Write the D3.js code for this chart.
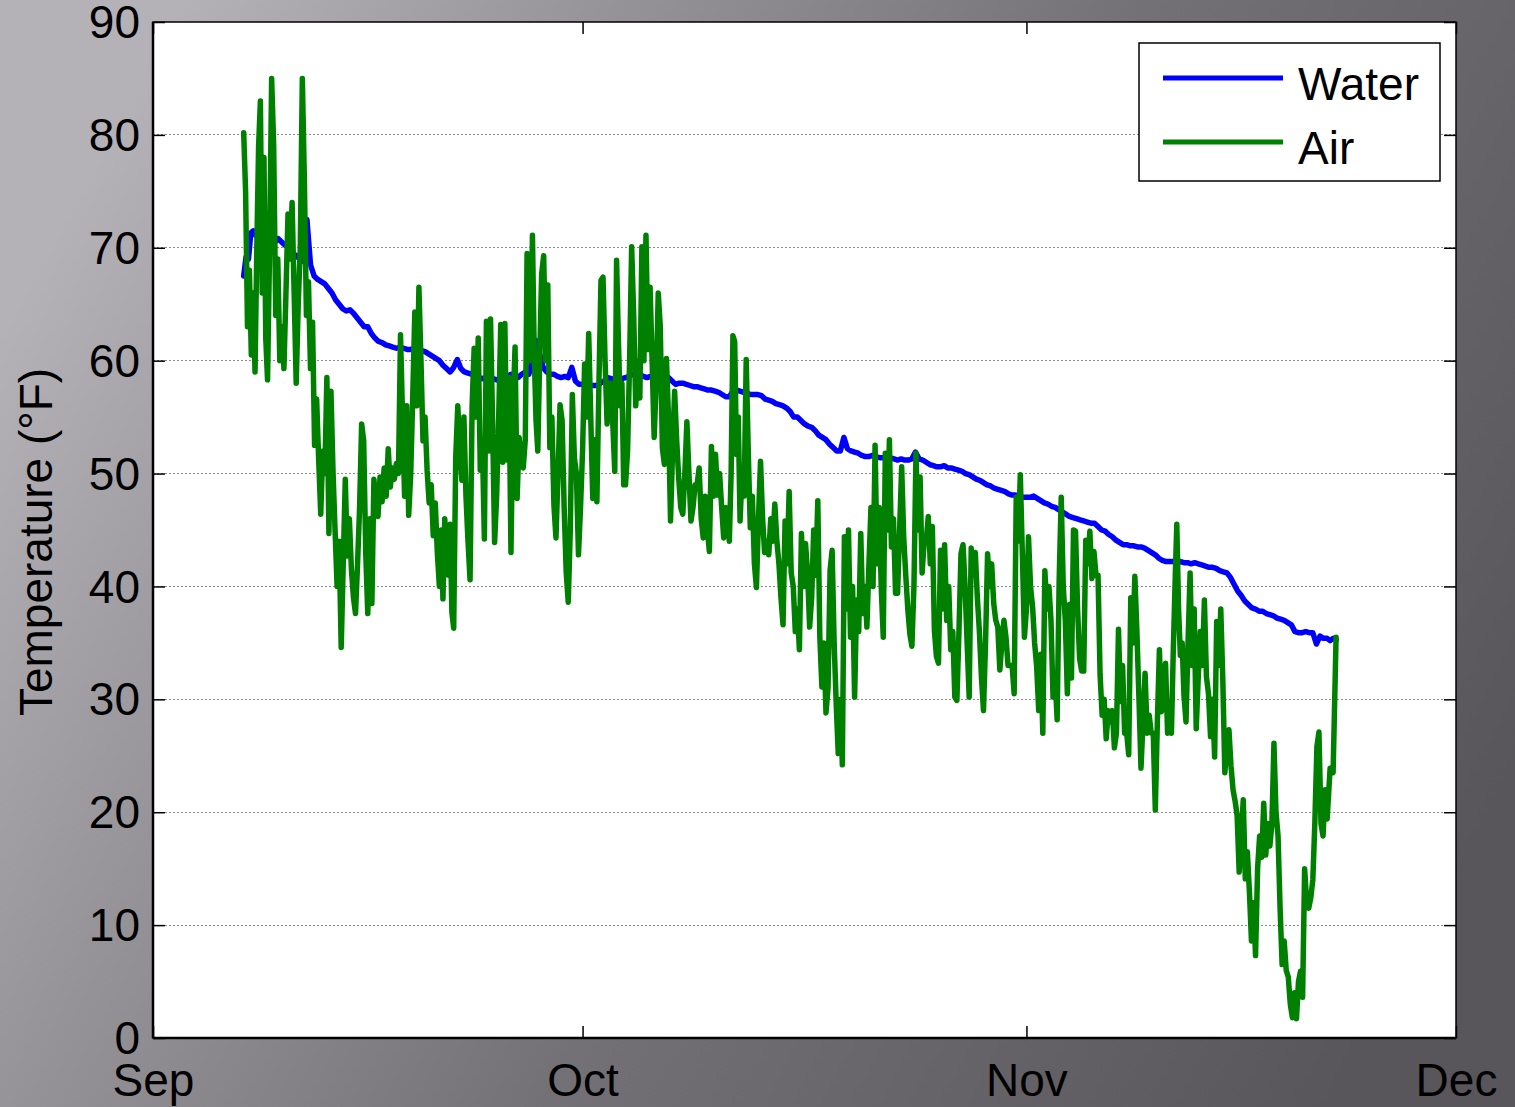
<!DOCTYPE html>
<meta charset="utf-8">
<style>
  body { margin: 0; background: #6a686d; }
  svg { display: block; font-family: "Liberation Sans", Arial, sans-serif; }
  .grid line { stroke: #8a8a8a; stroke-width: 1px; stroke-dasharray: 2,2; shape-rendering: crispEdges; }
  .axis text { font-size: 46px; fill: #000; }
  .axis line { stroke: #000; stroke-width: 1.5px; }
  .axis .domain { display: none; }
  .line { fill: none; stroke-width: 5.5px; stroke-linejoin: round; stroke-linecap: round; }
  .legend text { font-size: 46px; fill: #000; }
</style>
<body>
<div id="chart"></div>
<script src="https://cdn.jsdelivr.net/npm/d3@7"></script>
<script>
// readings per day, starting Sep 7 (first day starts at 08:00, last day ends ~15:00)
const firstDay = [2013, 8, 7];
const firstDayStartHour = 8;
const lastDayEndHour = 20;

const airByDay = [
  [80.2, 75, 63, 68, 60.5],
  [66, 59, 70, 79, 83, 66, 78, 62],
  [58.3, 70, 85, 79, 64, 69, 60],
  [63, 59.3, 66, 73, 69, 74, 66],
  [58, 65, 70, 85, 76, 64, 67],
  [59.3, 63.4, 52.5, 56.6, 51.2, 46.4, 52],
  [50, 58.5, 44.7, 57.3, 50.2, 45, 40],
  [44, 34.6, 42, 49.5, 42.7, 46, 41.5],
  [39, 37.6, 42, 47, 54.4, 52.9, 43],
  [37.6, 46, 38.5, 49.5, 47, 46.2, 49.7],
  [47.5, 50.5, 48, 52.2, 48.8, 50.5, 49.5],
  [50.9, 50, 62.3, 55, 48, 56, 46.3],
  [50, 57, 64.3, 56, 66.5, 60, 52.9],
  [55, 50.3, 47.4, 49, 44.5, 47.4, 43],
  [40, 45, 38.9, 46, 43, 41, 45.5, 37.7],
  [36.3, 51.5, 56, 52, 49.4, 55, 48],
  [44, 40.6, 56, 61.1, 55, 62, 50.3],
  [53, 44.2, 63.5, 52, 63.7, 54.7, 43.9],
  [48, 55, 63.2, 51, 63.3, 51.2, 58.5],
  [43, 56, 61.2, 47.8, 53.2, 51, 50.5],
  [53, 69.5, 62, 60, 71.1, 60.6, 54.7, 52],
  [60, 67.7, 69.3, 60, 66.7, 52.3, 55],
  [47.2, 44.3, 50, 56.1, 54.7, 47, 41.3],
  [38.6, 45, 57, 51.4, 50, 42.8, 47],
  [52, 59.7, 55, 62.4, 55, 47.8, 53],
  [47.5, 58, 67.1, 67.4, 60, 54.4, 58],
  [58, 54, 50.2, 68.9, 62, 56, 58, 49],
  [49, 52, 60, 70.1, 64, 56, 60],
  [56.7, 70.1, 60, 71.1, 61, 66.5, 60],
  [53.2, 58, 66, 63, 52.3, 50.8, 60.2],
  [55, 45.8, 52, 57.3, 53, 49.6, 47],
  [46.4, 50, 54.6, 50, 45.8, 47, 49],
  [49, 50.5, 46, 44.3, 48, 45, 43.1],
  [52.4, 48, 51.7, 48.1, 50, 47, 44.3],
  [47, 46, 44, 50, 62.2, 61.7, 51.7, 55],
  [45.8, 50, 48, 60.1, 52, 45.2, 48],
  [42, 39.9, 46, 51.1, 46.1, 43, 44],
  [42.8, 46, 44, 47.3, 44, 42, 39],
  [36.6, 45.8, 42, 48.4, 41.2, 40, 36],
  [38, 34.4, 44.7, 40, 43.8, 41.2, 36.4],
  [39, 45, 41, 47.6, 35.5, 31.1, 35],
  [28.8, 31, 41.4, 43.2, 35, 29.6, 25.2],
  [30, 24.2, 44.4, 38, 45, 35.5, 40],
  [30.2, 38.8, 36, 44.7, 37.6, 40, 36.4],
  [42, 47, 40, 52.5, 42, 47, 40],
  [35.5, 51.8, 45, 53, 43.5, 46, 39.4],
  [39.4, 45, 50.6, 44.4, 41, 38, 35.8],
  [34.7, 40, 51.8, 45, 49.7, 41.2, 44],
  [44, 46.2, 42, 45.3, 36.1, 33.8, 33.2],
  [43.2, 38, 43.7, 37, 40, 34.4, 36],
  [30.2, 29.9, 36, 42.9, 43.7, 40, 35],
  [30.2, 43.4, 41, 43, 39, 36, 32],
  [29, 35, 42.9, 40, 42, 38.5, 37],
  [36.4, 32.6, 35, 37, 35.5, 33, 33],
  [33, 30.5, 47.9, 44, 49.9, 42.9, 35.5],
  [38, 44.4, 40, 38.2, 35, 32.9, 29],
  [34, 27, 41.4, 38, 40, 37, 30.2],
  [32, 28.2, 40.6, 47.9, 40, 37, 30.5],
  [38.4, 31.9, 45, 44.9, 38, 33.6, 32.5],
  [32.5, 44.1, 42, 44.9, 40.7, 43.1, 41],
  [41, 32.2, 28.6, 30, 26.5, 29, 28],
  [29, 25.7, 27, 36.2, 29.8, 33, 27],
  [27, 25.1, 39, 35, 40.9, 36, 30.1],
  [23.9, 28, 32.3, 27, 28.6, 27, 27],
  [20.2, 28, 34.4, 28.9, 31, 33.2, 27],
  [29, 27, 34, 40, 45.5, 38, 33.9, 35],
  [30.4, 28, 35, 41.2, 33, 38, 27.4],
  [32, 36, 33, 38.8, 32, 30.5, 26.7],
  [30, 24.9, 36.9, 33, 38, 31.7, 23.5],
  [26, 27.3, 24.1, 22, 21, 19.7, 14.7],
  [18, 21.1, 14.1, 16.5, 13, 8.6, 12],
  [7.3, 15, 17.9, 16, 20.8, 16.2, 19],
  [17, 19, 26.1, 20, 17.9, 11.5, 6.5],
  [8.6, 6, 5.4, 3, 1.8, 4, 1.7],
  [5, 5.9, 3.6, 15, 12, 11.5, 12.4],
  [14, 19.1, 25.8, 27.1, 19, 17.9, 22],
  [19.4, 23.9, 23.5, 35.5]
];

const waterByDay = [
  [67.5, 69.2, 69.0, 71.3],
  [71.5, 71.0, 70.6, 71.3],
  [71.8, 71.2, 70.5, 70.8],
  [70.5, 70.2, 70.0, 69.5],
  [69.3, 69.0, 68.8, 72.5],
  [68.5, 67.5, 67.2, 67.0],
  [66.8, 66.4, 66.0, 65.4],
  [65.0, 64.6, 64.4, 64.5],
  [64.2, 63.8, 63.4, 63.0],
  [63.0, 62.4, 62.0, 61.7],
  [61.6, 61.4, 61.3, 61.2],
  [61.1, 61.2, 61.1, 61.0],
  [61.0, 61.1, 61.0, 60.9],
  [60.8, 60.6, 60.4, 60.2],
  [60.0, 59.6, 59.3, 59.0],
  [59.4, 60.1, 59.3, 59.0],
  [58.9, 58.8, 58.6, 58.5],
  [58.4, 58.5, 58.3, 58.4],
  [58.3, 58.2, 58.4, 58.6],
  [58.8, 58.6, 58.5, 58.8],
  [59.0, 58.8, 60.2, 61.8],
  [60.6, 59.4, 59.0, 58.8],
  [58.8, 58.6, 58.5, 58.6],
  [58.5, 59.4, 58.2, 57.9],
  [57.9, 58.0, 57.8, 57.8],
  [57.8, 58.0, 58.2, 58.5],
  [58.4, 58.3, 58.2, 58.4],
  [58.5, 58.6, 58.8, 58.7],
  [58.8, 58.6, 58.5, 58.6],
  [58.5, 58.5, 58.4, 58.4],
  [58.5, 58.2, 57.9, 58.0],
  [58.0, 57.9, 57.8, 57.7],
  [57.7, 57.6, 57.5, 57.4],
  [57.4, 57.3, 57.2, 57.0],
  [56.8, 56.8, 57.3, 57.4],
  [57.3, 57.2, 57.1, 57.0],
  [57.0, 57.0, 56.9, 56.6],
  [56.5, 56.4, 56.2, 56.1],
  [56.0, 55.8, 55.5, 55.0],
  [55.0, 54.7, 54.4, 54.2],
  [54.1, 53.8, 53.4, 53.2],
  [53.0, 52.6, 52.3, 52.0],
  [52.0, 53.2, 52.2, 52.0],
  [51.9, 51.8, 51.6, 51.5],
  [51.5, 51.6, 51.5, 51.4],
  [51.4, 51.3, 51.4, 51.3],
  [51.2, 51.3, 51.2, 51.2],
  [51.3, 51.9, 51.3, 51.2],
  [51.0, 50.8, 50.7, 50.6],
  [50.6, 50.7, 50.5, 50.5],
  [50.4, 50.3, 50.2, 50.0],
  [49.9, 49.7, 49.5, 49.4],
  [49.2, 49.0, 48.9, 48.7],
  [48.6, 48.5, 48.4, 48.2],
  [48.1, 48.1, 48.0, 47.9],
  [47.9, 47.9, 48.0, 47.8],
  [47.6, 47.4, 47.3, 47.1],
  [47.0, 46.8, 46.6, 46.4],
  [46.2, 46.1, 46.0, 45.9],
  [45.8, 45.7, 45.6, 45.6],
  [45.3, 45.0, 44.9, 44.6],
  [44.4, 44.1, 43.9, 43.7],
  [43.7, 43.6, 43.6, 43.5],
  [43.5, 43.4, 43.2, 43.0],
  [42.8, 42.5, 42.3, 42.2],
  [42.2, 42.2, 42.1, 42.2],
  [42.1, 42.1, 42.0, 42.1],
  [42.0, 41.9, 41.8, 41.7],
  [41.7, 41.6, 41.4, 41.3],
  [41.2, 40.8, 40.2, 39.6],
  [39.2, 38.7, 38.4, 38.1],
  [38.0, 37.8, 37.8, 37.6],
  [37.5, 37.4, 37.2, 37.1],
  [37.0, 36.8, 36.6, 36.0],
  [35.9, 35.9, 36.0, 35.9],
  [35.9, 34.9, 35.6, 35.4],
  [35.4, 35.2, 35.4, 35.3]
];

const yTicks = [0, 10, 20, 30, 40, 50, 60, 70, 80, 90];
const monthTicks = ["2013-09-01", "2013-10-01", "2013-11-01", "2013-12-01"];
const seriesNames = ["Water", "Air"];
const seriesColors = ["#0000ff", "#008000"];

// spread each day's readings over the hours of that day
function expand(byDay) {
  const day0 = Date.UTC(firstDay[0], firstDay[1], firstDay[2]);
  const pts = [];
  byDay.forEach(function(vals, k) {
    const s = k === 0 ? firstDayStartHour : 0;
    const e = k === byDay.length - 1 ? lastDayEndHour : 24;
    vals.forEach(function(v, i) {
      const h = k * 24 + s + i * (e - s) / vals.length;
      pts.push({ t: new Date(day0 + h * 3600e3), v: v });
    });
  });
  return pts;
}

const W = 1515, H = 1107;
const margin = { top: 22, right: 59, bottom: 69, left: 153 };
const width = W - margin.left - margin.right,
      height = H - margin.top - margin.bottom;

const svg = d3.select("#chart").append("svg")
  .attr("width", W)
  .attr("height", H);

// background
const defs = svg.append("defs");
const lg = defs.append("linearGradient").attr("id", "bg")
  .attr("x1", "0").attr("y1", "0.3").attr("x2", "1").attr("y2", "0.7");
lg.append("stop").attr("offset", "0").attr("stop-color", "#b4b2b7");
lg.append("stop").attr("offset", "0.25").attr("stop-color", "#959398");
lg.append("stop").attr("offset", "0.55").attr("stop-color", "#737176");
lg.append("stop").attr("offset", "1").attr("stop-color", "#58565b");
svg.append("rect").attr("width", W).attr("height", H).attr("fill", "url(#bg)");

defs.append("clipPath").attr("id", "plotclip")
  .append("rect").attr("width", width).attr("height", height);

const g = svg.append("g")
  .attr("transform", "translate(" + margin.left + "," + margin.top + ")");

const x = d3.scaleUtc()
  .domain([new Date(monthTicks[0]), new Date(monthTicks[3])])
  .range([0, width]);
const y = d3.scaleLinear().domain([0, 90]).range([height, 0]);

g.append("rect").attr("width", width).attr("height", height).attr("fill", "#fff");

// grid
g.append("g").attr("class", "grid")
  .selectAll("line")
  .data(yTicks.slice(1, -1))
  .enter().append("line")
  .attr("x1", 0).attr("x2", width)
  .attr("y1", function(d) { return y(d); })
  .attr("y2", function(d) { return y(d); });

// lines
const line = d3.line()
  .x(function(d) { return x(d.t); })
  .y(function(d) { return y(d.v); });

const plot = g.append("g").attr("clip-path", "url(#plotclip)");
[expand(waterByDay), expand(airByDay)].forEach(function(pts, i) {
  plot.append("path")
    .datum(pts)
    .attr("class", "line")
    .attr("stroke", seriesColors[i])
    .attr("d", line);
});

// axes (ticks point inward)
const months = monthTicks.map(function(s) { return new Date(s); });

const yAxisL = g.append("g").attr("class", "axis")
  .call(d3.axisLeft(y).tickValues(yTicks).tickSizeInner(-12).tickSizeOuter(0).tickPadding(13));
yAxisL.selectAll("text").attr("dy", "0.34em");

g.append("g").attr("class", "axis")
  .attr("transform", "translate(" + width + ",0)")
  .call(d3.axisRight(y).tickValues(yTicks).tickSizeInner(-12).tickSizeOuter(0).tickFormat(""));

const xAxisB = g.append("g").attr("class", "axis")
  .attr("transform", "translate(0," + height + ")")
  .call(d3.axisBottom(x).tickValues(months).tickSizeInner(-12).tickSizeOuter(0)
    .tickFormat(d3.utcFormat("%b")));
xAxisB.selectAll("text").attr("y", 58).attr("dy", 0);

g.append("g").attr("class", "axis")
  .call(d3.axisTop(x).tickValues(months).tickSizeInner(-12).tickSizeOuter(0).tickFormat(""));

// box
g.append("rect")
  .attr("width", width).attr("height", height)
  .attr("fill", "none").attr("stroke", "#000").attr("stroke-width", 1.5);
g.append("line").attr("x1", 0).attr("x2", width).attr("y1", height).attr("y2", height)
  .attr("stroke", "#000").attr("stroke-width", 2.5);
g.append("line").attr("x1", 0).attr("x2", 0).attr("y1", 0).attr("y2", height)
  .attr("stroke", "#000").attr("stroke-width", 2.5);

// y label
svg.append("text")
  .attr("transform", "translate(52," + (margin.top + height / 2 + 12) + ") rotate(-90)")
  .attr("text-anchor", "middle")
  .style("font-size", "46px")
  .text("Temperature (°F)");

// legend
const leg = svg.append("g").attr("class", "legend")
  .attr("transform", "translate(1139,43)");
leg.append("rect").attr("width", 301).attr("height", 138)
  .attr("fill", "#fff").attr("stroke", "#000").attr("stroke-width", 1.5);
seriesNames.forEach(function(name, i) {
  const yy = 35 + i * 64;
  leg.append("line").attr("x1", 24).attr("x2", 144).attr("y1", yy).attr("y2", yy)
    .attr("stroke", seriesColors[i]).attr("stroke-width", 5);
  leg.append("text").attr("x", 159).attr("y", yy + 22).text(name);
});
</script>
</body>
